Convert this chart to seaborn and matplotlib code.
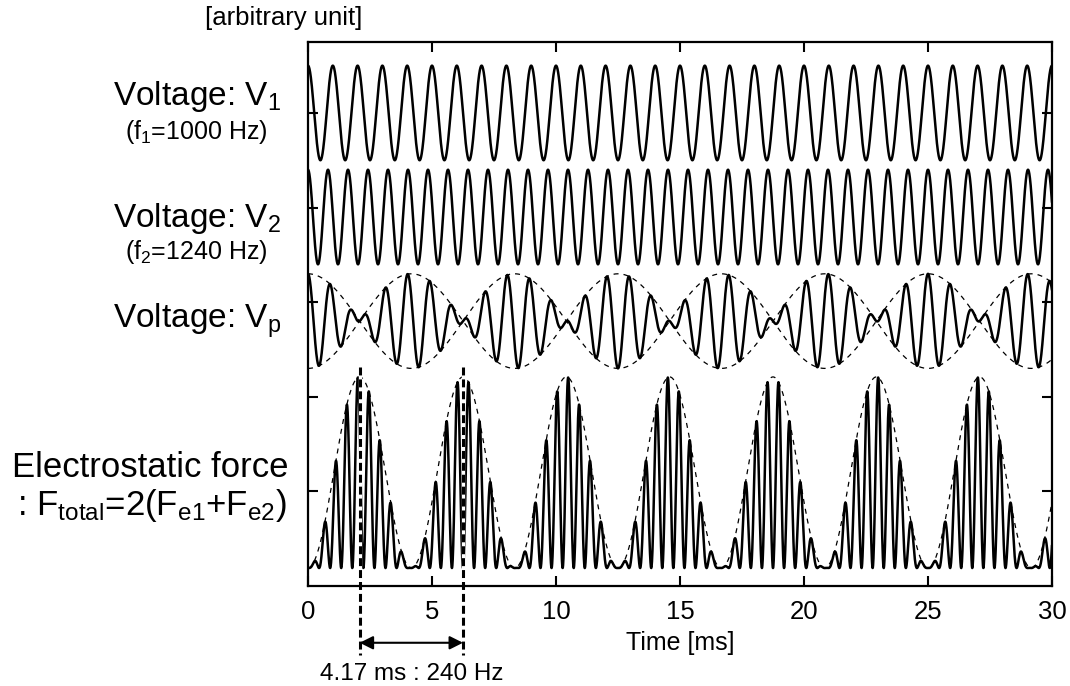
import numpy as np
import matplotlib
matplotlib.use("Agg")
import matplotlib.pyplot as plt
import seaborn as sns

# ------------------------------------------------------------------
# Datos de la figura (frecuencias, eje de tiempo, marcas y textos)
# ------------------------------------------------------------------
F1_HZ = 1000
F2_HZ = 1240
T_RANGE_MS = [0, 30]
N_SAMPLES = 6001
X_TICKS = [0, 5, 10, 15, 20, 25, 30]
Y_TICKS = [1, 2, 3, 4, 5]
BEAT_LABEL = "4.17 ms : 240 Hz"

# posiciones verticales de cada traza (unidades arbitrarias)
V1_CENTER, V2_CENTER, VP_CENTER, F_BASE = 5.0, 3.9, 2.8, 0.19
V_AMP, F_SCALE = 0.5, 2.02

W, H = 1070, 686


def px(x, y):
    """Convierte pixeles de la imagen a coordenadas de figura."""
    return x / W, 1 - y / H


t_ms = np.linspace(T_RANGE_MS[0], T_RANGE_MS[1], N_SAMPLES)
t_s = t_ms / 1000.0
v1 = np.cos(2 * np.pi * F1_HZ * t_s)
v2 = np.cos(2 * np.pi * F2_HZ * t_s)
vp = (v1 + v2) / 2
env_p = np.cos(np.pi * (F2_HZ - F1_HZ) * t_s)
force = ((v1 - v2) / 2) ** 2
env_f = np.sin(np.pi * (F2_HZ - F1_HZ) * t_s) ** 2
beat_marks = [0.5e3 / (F2_HZ - F1_HZ), 1.5e3 / (F2_HZ - F1_HZ)]

sns.set_theme(style="ticks")
plt.rcParams['font.family'] = ['Liberation Sans', 'DejaVu Sans']
plt.rcParams['mathtext.fontset'] = 'custom'
plt.rcParams['mathtext.rm'] = 'Liberation Sans'
plt.rcParams['mathtext.it'] = 'Liberation Sans'
plt.rcParams['mathtext.bf'] = 'Liberation Sans:bold'
plt.rcParams['text.color'] = 'black'
plt.rcParams['axes.labelcolor'] = 'black'

fig = plt.figure(figsize=(W / 100, H / 100), dpi=100)
ax = fig.add_axes([308 / W, 100 / H, 744 / W, 544 / H])

lw = 1.8
sns.lineplot(x=t_ms, y=V1_CENTER + V_AMP * v1, color='black', lw=lw, ax=ax, estimator=None)
sns.lineplot(x=t_ms, y=V2_CENTER + V_AMP * v2, color='black', lw=lw, ax=ax, estimator=None)
sns.lineplot(x=t_ms, y=VP_CENTER + V_AMP * vp, color='black', lw=lw, ax=ax, estimator=None)
sns.lineplot(x=t_ms, y=F_BASE + F_SCALE * force, color='black', lw=lw, ax=ax, estimator=None)

# envolventes punteadas
for y in (VP_CENTER + V_AMP * env_p, VP_CENTER - V_AMP * env_p, F_BASE + F_SCALE * env_f):
    ax.plot(t_ms, y, color='black', lw=0.9, dashes=(4, 4))

ax.set_xlim(T_RANGE_MS)
ax.set_ylim(0, 5.75)
ax.set_xticks(X_TICKS)
ax.set_yticks(Y_TICKS)
ax.tick_params(direction='in', length=7, width=1.5, top=True, right=True,
               labelleft=False, labelsize=18.5, pad=10, colors='black')
for s in ax.spines.values():
    s.set_linewidth(1.6)
    s.set_color('black')
ax.set_xlabel("Time [ms]", fontsize=18, color='black')
ax.xaxis.set_label_coords(0.5, -0.083)
ax.xaxis.label.set_va('top')
ax.set_ylabel("")

# lineas verticales del periodo de batido
for tm in beat_marks:
    ax.plot([tm, tm], [2.31, -0.73], color='white', lw=2.4, clip_on=False, zorder=2.1)
    ax.plot([tm, tm], [2.31, -0.73], color='black', lw=2.2, dashes=(2.6, 1.3),
            clip_on=False, zorder=2.2)
ax.annotate('', xy=(beat_marks[1], -0.6), xytext=(beat_marks[0], -0.6),
            arrowprops=dict(arrowstyle='<|-|>', color='black', lw=1.5,
                            mutation_scale=20, shrinkA=0, shrinkB=0),
            annotation_clip=False)
ax.text(np.mean(beat_marks), -0.93, BEAT_LABEL, ha='center', va='center',
        fontsize=17.5, clip_on=False)

# etiquetas a la izquierda
fig.text(*px(205, 18), "[arbitrary unit]", fontsize=18.5, ha='left', va='center')
fig.text(*px(197, 105), r"Voltage: $\mathrm{V}_1$", fontsize=24, ha='center', va='baseline')
fig.text(*px(196, 139), r"($\mathrm{f}_1$=1000 Hz)", fontsize=18, ha='center', va='baseline')
fig.text(*px(197, 227), r"Voltage: $\mathrm{V}_2$", fontsize=24, ha='center', va='baseline')
fig.text(*px(196, 259), r"($\mathrm{f}_2$=1240 Hz)", fontsize=18, ha='center', va='baseline')
fig.text(*px(197, 328), r"Voltage: $\mathrm{V}_\mathrm{p}$", fontsize=24, ha='center', va='baseline')
fig.text(*px(150, 477), "Electrostatic force", fontsize=25, ha='center', va='baseline')
fig.text(*px(152, 515), r": $\mathrm{F}_\mathrm{total}$=2($\mathrm{F}_\mathrm{e1}$+$\mathrm{F}_\mathrm{e2}$)",
         fontsize=25, ha='center', va='baseline')

fig.savefig("out.png", dpi=100)
